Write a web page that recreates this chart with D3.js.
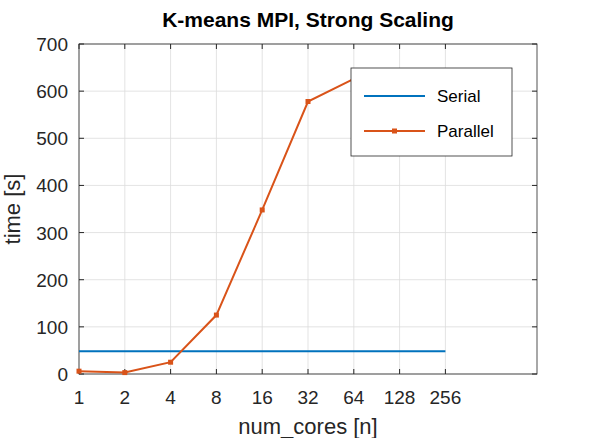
<!DOCTYPE html><html><head><script src="https://cdn.jsdelivr.net/npm/d3@7"></script>
<style>body{margin:0;background:#fff}text{font-family:"Liberation Sans",Arial,sans-serif}</style></head><body><svg id="c" width="593" height="438"></svg>
<script>
const cores=[1,2,4,8,16,32,64];
const parallel=[6,3,25,125,348,578,626];
const serialX=[1,256];
const serialY=[48,48];
const xTicks=[1,2,4,8,16,32,64,128,256];
const yTicks=[0,100,200,300,400,500,600,700];
const svg=d3.select("#c");
const L=79,R=537,T=44,B=374;
const x=d3.scaleLog().base(2).domain([1,1024]).range([L,R]);
const y=d3.scaleLinear().domain([0,700]).range([B,T]);
const g=svg.append("g");
g.append("rect").attr("x",L).attr("y",T).attr("width",R-L).attr("height",B-T).attr("fill","#fff");
xTicks.forEach(t=>g.append("line").attr("x1",x(t)).attr("x2",x(t)).attr("y1",T).attr("y2",B).attr("stroke","#dcdcdc").attr("stroke-width",0.8));
yTicks.forEach(t=>g.append("line").attr("x1",L).attr("x2",R).attr("y1",y(t)).attr("y2",y(t)).attr("stroke","#dcdcdc").attr("stroke-width",0.8));
g.append("rect").attr("x",L).attr("y",T).attr("width",R-L).attr("height",B-T).attr("fill","none").attr("stroke","#262626").attr("stroke-width",0.8);
xTicks.forEach(t=>{
 g.append("line").attr("x1",x(t)).attr("x2",x(t)).attr("y1",B).attr("y2",B-5).attr("stroke","#262626");
 g.append("line").attr("x1",x(t)).attr("x2",x(t)).attr("y1",T).attr("y2",T+5).attr("stroke","#262626");
 g.append("text").attr("x",x(t)).attr("y",B+30).attr("text-anchor","middle").attr("font-size",19).attr("fill","#262626").text(t);
});
yTicks.forEach(t=>{
 g.append("line").attr("x1",L).attr("x2",L+5).attr("y1",y(t)).attr("y2",y(t)).attr("stroke","#262626");
 g.append("line").attr("x1",R).attr("x2",R-5).attr("y1",y(t)).attr("y2",y(t)).attr("stroke","#262626");
 g.append("text").attr("x",L-11).attr("y",y(t)+7).attr("text-anchor","end").attr("font-size",19).attr("fill","#262626").text(t);
});
const line=d3.line().x(d=>x(d[0])).y(d=>y(d[1]));
g.append("path").attr("d",line(serialX.map((v,i)=>[v,serialY[i]]))).attr("stroke","#0072bd").attr("stroke-width",2).attr("fill","none");
const pd=cores.map((v,i)=>[v,parallel[i]]);
g.append("path").attr("d",line(pd)).attr("stroke","#d95319").attr("stroke-width",2).attr("fill","none");
g.selectAll(".m").data(pd).enter().append("rect").attr("x",d=>x(d[0])-2.5).attr("y",d=>y(d[1])-2.5).attr("width",5).attr("height",5).attr("fill","#d95319");
const lg=g.append("g");
lg.append("rect").attr("x",351).attr("y",68).attr("width",161).attr("height",88).attr("fill","#fff").attr("stroke","#262626").attr("stroke-width",0.8);
lg.append("line").attr("x1",364).attr("x2",425).attr("y1",96).attr("y2",96).attr("stroke","#0072bd").attr("stroke-width",2);
lg.append("line").attr("x1",364).attr("x2",425).attr("y1",131).attr("y2",131).attr("stroke","#d95319").attr("stroke-width",2);
lg.append("rect").attr("x",392).attr("y",128.5).attr("width",5).attr("height",5).attr("fill","#d95319");
lg.append("text").attr("x",437).attr("y",102).attr("font-size",17).attr("fill","#000").text("Serial");
lg.append("text").attr("x",437).attr("y",137).attr("font-size",17).attr("fill","#000").text("Parallel");
svg.append("text").attr("x",308).attr("y",27).attr("text-anchor","middle").attr("font-size",21).attr("font-weight","bold").attr("fill","#000").text("K-means MPI, Strong Scaling");
svg.append("text").attr("x",308).attr("y",434).attr("text-anchor","middle").attr("font-size",22).attr("fill","#262626").text("num_cores [n]");
svg.append("text").attr("transform","translate(20,209) rotate(-90)").attr("text-anchor","middle").attr("font-size",22).attr("fill","#262626").text("time [s]");
</script></body></html>
